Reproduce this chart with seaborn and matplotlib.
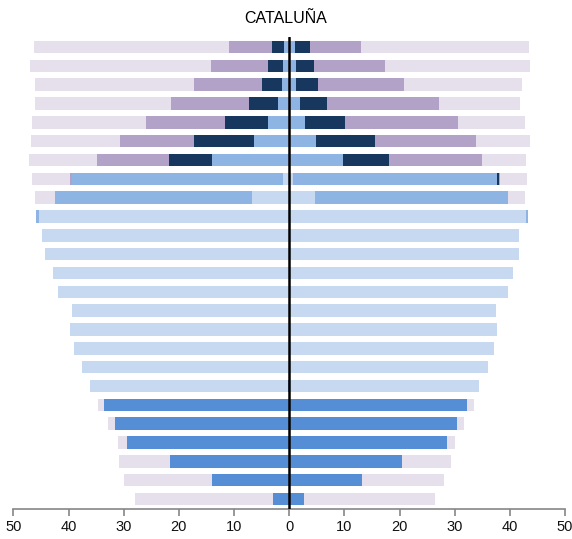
import matplotlib
matplotlib.use("Agg")
import matplotlib.pyplot as plt
from matplotlib.ticker import FuncFormatter
import numpy as np
import pandas as pd
import seaborn as sns

# filas de arriba (0) a abajo (24)
rows = [str(i) for i in range(25)]
ticks = [-50, -40, -30, -20, -10, 0, 10, 20, 30, 40, 50]

# capas, del centro hacia fuera
layers = ["mid", "pale", "light", "navy", "purple", "lavender"]
colors = {
    "mid": "#558ed5",
    "pale": "#c6d9f1",
    "light": "#8eb4e3",
    "navy": "#17375e",
    "purple": "#b3a2c7",
    "lavender": "#e6e0ec",
}

# lado izquierdo (longitud de cada tramo)
left_mid = [0] * 18 + [0.2, 33.6, 31.6, 29.4, 21.6, 14.0, 2.9]
left_pale = [0, 0, 0, 0, 0, 0, 0, 1.1, 6.8, 45.4, 44.8, 44.3, 42.8, 41.9,
             39.3, 39.8, 39.0, 37.6, 35.9, 0, 0, 0, 0, 0, 0]
left_light = [0.9, 1.1, 1.3, 2.1, 3.8, 6.4, 14.0, 38.2, 35.7, 0.5] + [0] * 15
left_navy = [2.2, 2.8, 3.7, 5.2, 7.8, 10.8, 7.8] + [0] * 18
left_purple = [7.8, 10.3, 12.2, 14.2, 14.3, 13.5, 13.1, 0.4] + [0] * 17
left_lavender = [35.4, 32.7, 28.8, 24.5, 20.7, 16.1, 12.2, 6.9, 3.5] + [0] * 10 + \
                [1.1, 1.2, 1.6, 9.3, 16.0, 25.1]

# lado derecho
right_mid = [0] * 19 + [32.3, 30.4, 28.6, 20.5, 13.2, 2.6]
right_pale = [0, 0, 0, 0, 0, 0, 0, 0.7, 4.6, 42.9, 41.6, 41.6, 40.6, 39.6,
              37.5, 37.6, 37.1, 36.1, 34.4, 0, 0, 0, 0, 0, 0]
right_light = [1.1, 1.2, 1.3, 1.9, 2.9, 4.8, 9.7, 37.0, 35.1, 0.3] + [0] * 15
right_navy = [2.6, 3.3, 3.9, 5.0, 7.2, 10.8, 8.3, 0.4] + [0] * 17
right_purple = [9.3, 12.9, 15.6, 20.2, 20.4, 18.2, 16.9, 0.1] + [0] * 17
right_lavender = [30.4, 26.3, 21.3, 14.7, 12.3, 9.8, 8.0, 4.8, 3.1] + [0] * 10 + \
                 [1.1, 1.2, 1.4, 8.8, 14.9, 23.9]

left = pd.DataFrame({"mid": left_mid, "pale": left_pale, "light": left_light,
                     "navy": left_navy, "purple": left_purple, "lavender": left_lavender})
right = pd.DataFrame({"mid": right_mid, "pale": right_pale, "light": right_light,
                      "navy": right_navy, "purple": right_purple, "lavender": right_lavender})

# acumulado para dibujar capas superpuestas desde el 0
left_cum = -left[layers].cumsum(axis=1)
right_cum = right[layers].cumsum(axis=1)
left_cum["row"] = rows
right_cum["row"] = rows

sns.set_style("white")
plt.rcParams["font.family"] = ["Liberation Sans", "DejaVu Sans"]

fig = plt.figure(figsize=(5.72, 5.39), dpi=100)
ax = fig.add_axes([0.0233, 0.0557, 0.9647, 0.8757])

for layer in reversed(layers):
    for df in (left_cum, right_cum):
        sns.barplot(data=df, x=layer, y="row", order=rows, orient="h",
                    color=colors[layer], saturation=1, width=0.66,
                    linewidth=0, ax=ax)

ax.axvline(0, color="black", lw=1.8, zorder=5)

ax.set_xlim(-50, 50)
ax.set_ylim(24.53, -0.53)
ax.set_xticks(ticks)
ax.xaxis.set_major_formatter(FuncFormatter(lambda v, p: f"{abs(int(v))}"))
ax.set_yticks([])
ax.set_xlabel("")
ax.set_ylabel("")

for s in ["top", "right", "left"]:
    ax.spines[s].set_visible(False)
ax.spines["bottom"].set_color("#868686")
ax.spines["bottom"].set_linewidth(1.2)
ax.tick_params(axis="x", bottom=True, direction="out", length=5, width=1.2,
               color="#868686", labelsize=10.5, labelcolor="#111111", pad=3)

fig.text(0.5, 0.965, "CATALUÑA", ha="center", va="center", fontsize=11.5,
         color="black")

fig.savefig("out.png", dpi=100)
